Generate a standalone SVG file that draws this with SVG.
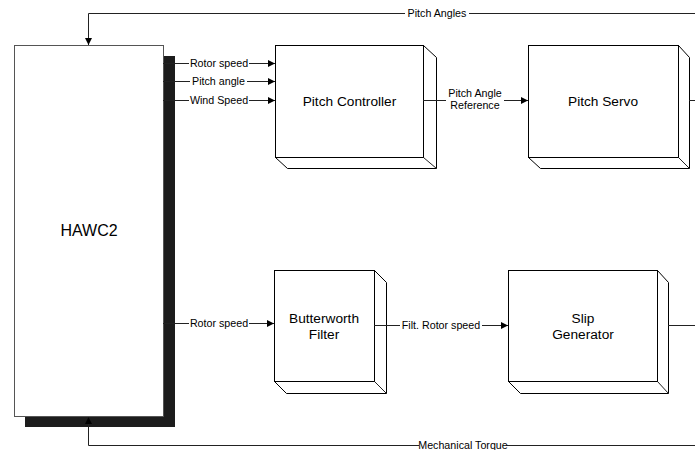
<svg xmlns="http://www.w3.org/2000/svg" width="695" height="450" viewBox="0 0 695 450">
<style>
.box{fill:#fff;stroke:#000;stroke-width:1}
.ext{fill:#fff;stroke:#000;stroke-width:1;stroke-linejoin:miter}
.ln{fill:none;stroke:#222;stroke-width:1}
.lbl{font-family:"Liberation Sans",Arial,sans-serif;font-size:10.7px;fill:#000;text-anchor:middle}
.big{font-family:"Liberation Sans",Arial,sans-serif;font-size:13.7px;fill:#000;text-anchor:middle}
.hawc{font-family:"Liberation Sans",Arial,sans-serif;font-size:16px;fill:#000;text-anchor:middle}
.bg{fill:#fff}
</style>
<defs>
<marker id="ah" viewBox="0 0 10 10" refX="10" refY="5" markerWidth="9" markerHeight="7" markerUnits="userSpaceOnUse" orient="auto">
<path d="M0,0 L10,5 L0,10 z" fill="#000"/>
</marker>
</defs>
<rect width="695" height="450" fill="#fff"/>
<g id="hawc2">
<rect x="25" y="56" width="150" height="371" fill="#1c1c1c"/>
<rect x="14.5" y="45.5" width="149" height="371" fill="#fff" stroke="#555"/>
<text x="89" y="236" class="hawc">HAWC2</text>
</g>
<g id="pitch-controller">
<path class="ext" d="M275.5,157.5 L287.5,168.5 L436.5,168.5 L436.5,57.5 L423.5,45.5 Z"/>
<rect class="box" x="275.5" y="45.5" width="148" height="112"/>
<line class="ln" x1="423.5" y1="157.5" x2="436.5" y2="168.5"/>
<text x="349.5" y="106" class="big">Pitch Controller</text>
</g>
<g id="pitch-servo">
<path class="ext" d="M528.5,157.5 L540.5,168.5 L689.5,168.5 L689.5,57.5 L678.5,45.5 Z"/>
<rect class="box" x="528.5" y="45.5" width="150" height="112"/>
<line class="ln" x1="678.5" y1="157.5" x2="689.5" y2="168.5"/>
<text x="603" y="106" class="big">Pitch Servo</text>
</g>
<g id="butterworth-filter">
<path class="ext" d="M274.5,381.5 L286.5,393.5 L386.5,393.5 L386.5,282.5 L374.5,270.5 Z"/>
<rect class="box" x="274.5" y="270.5" width="100" height="111"/>
<line class="ln" x1="374.5" y1="381.5" x2="386.5" y2="393.5"/>
<text x="324" y="323" class="big">Butterworth</text>
<text x="324" y="339" class="big">Filter</text>
</g>
<g id="slip-generator">
<path class="ext" d="M508.5,381.5 L520.5,393.5 L668.5,393.5 L668.5,282.5 L657.5,270.5 Z"/>
<rect class="box" x="508.5" y="270.5" width="149" height="111"/>
<line class="ln" x1="657.5" y1="381.5" x2="668.5" y2="393.5"/>
<text x="583" y="323" class="big">Slip</text>
<text x="583" y="339" class="big">Generator</text>
</g>
<g id="connectors">
<path class="ln" d="M695,13.5 L88.5,13.5 L88.5,45" marker-end="url(#ah)"/>
<rect class="bg" x="405" y="7" width="64" height="12"/>
<text x="437" y="17" class="lbl">Pitch Angles</text>
<path class="ln" d="M695,445.5 L88.5,445.5 L88.5,417" marker-end="url(#ah)"/>
<rect class="bg" x="419" y="439" width="88" height="12"/>
<text x="463" y="449" class="lbl">Mechanical Torque</text>
<path class="ln" d="M163,63.5 L275,63.5" marker-end="url(#ah)"/>
<rect class="bg" x="189" y="57" width="60" height="12"/>
<text x="219" y="67" class="lbl">Rotor speed</text>
<path class="ln" d="M163,81.5 L275,81.5" marker-end="url(#ah)"/>
<rect class="bg" x="190" y="75" width="57" height="12"/>
<text x="218.5" y="85" class="lbl">Pitch angle</text>
<path class="ln" d="M163,100.5 L275,100.5" marker-end="url(#ah)"/>
<rect class="bg" x="189" y="94" width="60" height="12"/>
<text x="219" y="104" class="lbl">Wind Speed</text>
<path class="ln" d="M423,100.5 L528,100.5" marker-end="url(#ah)"/>
<rect class="bg" x="446" y="88" width="58" height="24"/>
<text x="475" y="97" class="lbl">Pitch Angle</text>
<text x="475" y="109" class="lbl">Reference</text>
<path class="ln" d="M689,100.5 L695,100.5"/>
<path class="ln" d="M163,323.5 L274,323.5" marker-end="url(#ah)"/>
<rect class="bg" x="189" y="317" width="60" height="12"/>
<text x="219" y="327" class="lbl">Rotor speed</text>
<path class="ln" d="M374,325.5 L508,325.5" marker-end="url(#ah)"/>
<rect class="bg" x="400" y="319" width="82" height="12"/>
<text x="441" y="329" class="lbl">Filt. Rotor speed</text>
<path class="ln" d="M668,325.5 L695,325.5"/>
</g>
</svg>
